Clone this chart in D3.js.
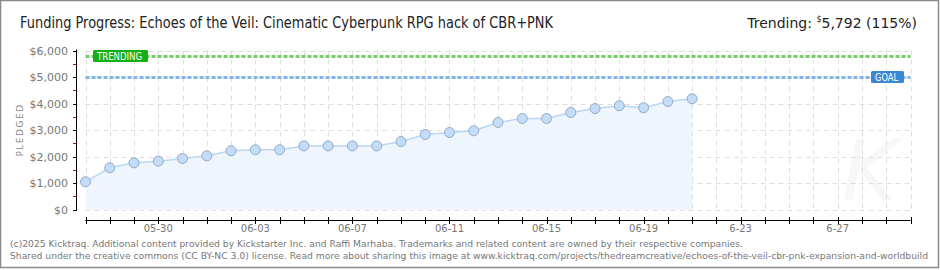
<!DOCTYPE html>
<html>
<head>
<meta charset="utf-8">
<script src="https://cdn.jsdelivr.net/npm/d3@7"></script>
<style>
  body { margin: 0; background: #fff; }
  svg { display: block; }
  text { font-family: "DejaVu Sans", sans-serif; }
</style>
</head>
<body>
<div id="chart"></div>
<script>
// pledged per day
var days = ["05-27","05-28","05-29","05-30","05-31","06-01","06-02","06-03","06-04","06-05","06-06","06-07","06-08",
            "06-09","06-10","06-11","06-12","06-13","06-14","06-15","06-16","06-17","06-18","06-19","06-20","06-21"];
var pledged = [1045,1575,1760,1825,1925,2025,2215,2255,2255,2400,2400,2400,2400,
               2565,2830,2905,2970,3285,3435,3435,3660,3810,3915,3840,4075,4180];
var goal = 5000;
var trending = 5792;
var yTicks = [0,1000,2000,3000,4000,5000,6000];
var xTickLabels = ["05-30","06-03","06-07","06-11","06-15","06-19","6-23","6-27"];
var xTickDays = ["05-30","06-03","06-07","06-11","06-15","06-19","06-23","06-27"];

var width = 940, height = 270;
var parse = function(s) { return d3.timeParse("%Y-%m-%d")("2025-" + s); };

var x = d3.scaleTime().domain([parse("05-27"), parse("06-30")]).range([85.5, 910.5]);
var y = d3.scaleLinear().domain([0, 6000]).range([209.5, 50.5]);

var svg = d3.select('#chart').append('svg')
  .attr('width', width)
  .attr('height', height);

// frame
svg.append('rect')
  .attr('x', 0.5).attr('y', 0.5).attr('width', 938).attr('height', 267)
  .attr('fill', '#fff').attr('stroke', '#8a8a8a').attr('stroke-width', 1.5);

// title
svg.append('text')
  .attr('x', 20).attr('y', 28)
  .attr('font-family', 'DejaVu Sans Condensed, DejaVu Sans, sans-serif')
  .attr('font-size', 15).attr('fill', '#222')
  .attr('textLength', 533).attr('lengthAdjust', 'spacingAndGlyphs')
  .text('Funding Progress: Echoes of the Veil: Cinematic Cyberpunk RPG hack of CBR+PNK');

var tr = svg.append('text')
  .attr('x', 917).attr('y', 28).attr('text-anchor', 'end')
  .attr('font-family', 'DejaVu Sans Condensed, DejaVu Sans, sans-serif')
  .attr('font-size', 14).attr('fill', '#222');
tr.append('tspan').text('Trending:  ');
tr.append('tspan').attr('font-size', 8).attr('dy', -6).text('$');
tr.append('tspan').attr('dy', 6)
  .text(d3.format(',')(trending) + ' (' + Math.floor(trending / goal * 100) + '%)');

// faint watermark
svg.append('text')
  .attr('x', 842).attr('y', 200)
  .attr('font-family', 'DejaVu Serif, serif').attr('font-style', 'italic')
  .attr('font-size', 84).attr('fill', '#f7f7f7')
  .text('K');

// grid
var allDays = d3.timeDay.range(parse("05-27"), d3.timeDay.offset(parse("06-30"), 1));
svg.append('g').selectAll('line')
  .data(allDays).enter().append('line')
  .attr('x1', function(d) { return Math.round(x(d)) + 0.5; })
  .attr('x2', function(d) { return Math.round(x(d)) + 0.5; })
  .attr('y1', y(6000)).attr('y2', y(0))
  .attr('stroke', '#dedede').attr('stroke-dasharray', '5,4');

svg.append('g').selectAll('line')
  .data(yTicks).enter().append('line')
  .attr('x1', x.range()[0]).attr('x2', x.range()[1])
  .attr('y1', function(d) { return Math.round(y(d)) + 0.5; })
  .attr('y2', function(d) { return Math.round(y(d)) + 0.5; })
  .attr('stroke', '#dedede').attr('stroke-dasharray', '5,4');

// area + line
var pts = days.map(function(d, i) { return { date: parse(d), v: pledged[i] }; });

svg.append('path').datum(pts)
  .attr('d', d3.area().x(function(d) { return x(d.date); }).y0(y(0)).y1(function(d) { return y(d.v); }))
  .attr('fill', '#eef5fd');

svg.append('path').datum(pts)
  .attr('d', d3.line().x(function(d) { return x(d.date); }).y(function(d) { return y(d.v); }))
  .attr('fill', 'none').attr('stroke', '#b9d6f3').attr('stroke-width', 1.5);

// goal / trending lines
svg.append('line')
  .attr('x1', x.range()[0]).attr('x2', x.range()[1])
  .attr('y1', Math.round(y(trending)) + 0.5).attr('y2', Math.round(y(trending)) + 0.5)
  .attr('stroke', '#74cf66').attr('stroke-width', 3).attr('stroke-dasharray', '4,2');
svg.append('line')
  .attr('x1', x.range()[0]).attr('x2', x.range()[1])
  .attr('y1', Math.round(y(goal)) + 0.5).attr('y2', Math.round(y(goal)) + 0.5)
  .attr('stroke', '#82b4e8').attr('stroke-width', 3).attr('stroke-dasharray', '4,2');

// points
svg.append('g').selectAll('circle')
  .data(pts).enter().append('circle')
  .attr('cx', function(d) { return x(d.date); })
  .attr('cy', function(d) { return y(d.v); })
  .attr('r', 5)
  .attr('fill', '#c3dcf7').attr('stroke', '#94abc4').attr('stroke-width', 1);

// labels on lines
function tag(cx, cy, w, color, label) {
  svg.append('rect')
    .attr('x', cx).attr('y', cy - 6).attr('width', w).attr('height', 12)
    .attr('rx', 1.5).attr('fill', color);
  svg.append('text')
    .attr('x', cx + 4).attr('y', cy + 4)
    .attr('font-family', 'DejaVu Sans Mono, monospace')
    .attr('font-size', 10).attr('fill', '#fff')
    .attr('textLength', w - 10).attr('lengthAdjust', 'spacingAndGlyphs')
    .text(label);
}
tag(93, y(trending), 55, '#16b014', 'TRENDING');
tag(871, y(goal), 33, '#3a87d6', 'GOAL');

// y axis
svg.append('line')
  .attr('x1', 76.5).attr('x2', 76.5).attr('y1', y(6000) - 1).attr('y2', y(0) + 1)
  .attr('stroke', '#000');
svg.append('g').selectAll('line')
  .data(yTicks).enter().append('line')
  .attr('x1', 73).attr('x2', 77)
  .attr('y1', function(d) { return Math.round(y(d)) + 0.5; })
  .attr('y2', function(d) { return Math.round(y(d)) + 0.5; })
  .attr('stroke', '#000');
svg.append('g').selectAll('line')
  .data(yTicks.slice(0, -1)).enter().append('line')
  .attr('x1', 73).attr('x2', 76)
  .attr('y1', function(d) { return Math.round(y(d + 500)) + 0.5; })
  .attr('y2', function(d) { return Math.round(y(d + 500)) + 0.5; })
  .attr('stroke', '#e00000');
svg.append('g').selectAll('text')
  .data(yTicks).enter().append('text')
  .attr('x', 68).attr('y', function(d) { return y(d) + 4; })
  .attr('text-anchor', 'end').attr('font-size', 11).attr('fill', '#777')
  .text(function(d) { return '$' + d3.format(',')(d); });

svg.append('text')
  .attr('transform', 'translate(23,130) rotate(-90)')
  .attr('text-anchor', 'middle').attr('font-size', 9).attr('fill', '#888')
  .attr('letter-spacing', 1.5)
  .text('PLEDGED');

// x axis
svg.append('line')
  .attr('x1', x.range()[0]).attr('x2', x.range()[1]).attr('y1', 220.5).attr('y2', 220.5)
  .attr('stroke', '#000');
svg.append('g').selectAll('line')
  .data(allDays).enter().append('line')
  .attr('x1', function(d) { return Math.round(x(d)) + 0.5; })
  .attr('x2', function(d) { return Math.round(x(d)) + 0.5; })
  .attr('y1', 217).attr('y2', 224)
  .attr('stroke', '#000');
svg.append('g').selectAll('text')
  .data(xTickDays).enter().append('text')
  .attr('x', function(d) { return x(parse(d)); }).attr('y', 232)
  .attr('text-anchor', 'middle').attr('font-size', 10).attr('fill', '#777')
  .text(function(d, i) { return xTickLabels[i]; });

// footer
var foot = svg.append('g')
  .attr('font-family', 'DejaVu Sans Condensed, DejaVu Sans, sans-serif')
  .attr('font-size', 9.5).attr('fill', '#777');
foot.append('text').attr('x', 10).attr('y', 247)
  .attr('textLength', 733).attr('lengthAdjust', 'spacingAndGlyphs')
  .text('(c)2025 Kicktraq. Additional content provided by Kickstarter Inc. and Raffi Marhaba. Trademarks and related content are owned by their respective companies.');
foot.append('text').attr('x', 10).attr('y', 259)
  .attr('textLength', 918).attr('lengthAdjust', 'spacingAndGlyphs')
  .text('Shared under the creative commons (CC BY-NC 3.0) license. Read more about sharing this image at www.kicktraq.com/projects/thedreamcreative/echoes-of-the-veil-cbr-pnk-expansion-and-worldbuild');
</script>
</body>
</html>
